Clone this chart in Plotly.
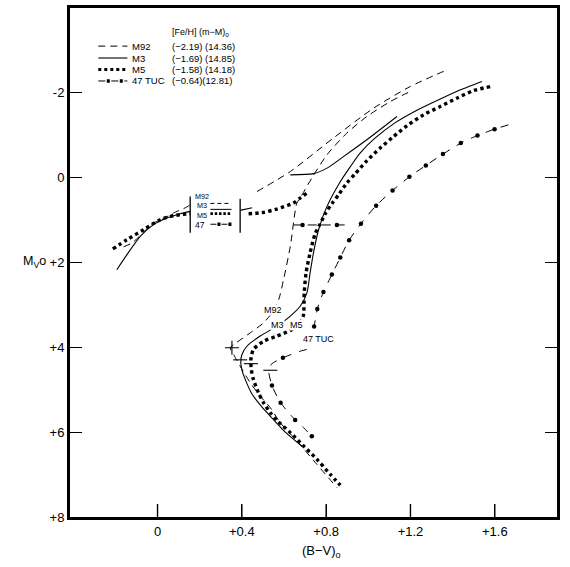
import plotly.graph_objects as go

# ---------------- data ----------------
# M92 (dashed)
M92_HB_BV = [-0.161, -0.121, -0.019, 0.013, 0.076, 0.139, 0.155]
M92_HB_MV = [1.64, 1.55, 1.08, 1.02, 0.845, 0.705, 0.65]
M92_AGB_BV = [0.472, 0.630, 0.835, 1.025, 1.199, 1.373]
M92_AGB_MV = [0.34, -0.13, -0.92, -1.62, -2.13, -2.52]
M92_BV = [1.189, 1.104, 0.993, 0.898, 0.804, 0.732, 0.677, 0.661, 0.630, 0.598,
          0.575, 0.543, 0.503, 0.440, 0.369, 0.345, 0.361, 0.392, 0.440, 0.487,
          0.535, 0.582, 0.661, 0.756, 0.851]
M92_MV = [-1.99, -1.775, -1.423, -1.033, -0.524, 0.023, 0.493, 0.611, 1.63, 2.41,
          2.88, 3.194, 3.429, 3.664, 3.915, 4.016, 4.173, 4.448, 4.838, 5.153,
          5.425, 5.777, 6.21, 6.757, 7.304]

# M3 (solid)
M3_HB_BV = [-0.193, -0.145, -0.082, -0.019, 0.045, 0.108, 0.155]
M3_HB_MV = [2.18, 1.825, 1.395, 1.12, 0.963, 0.862, 0.808]
M3_RHB_BV = [0.392, 0.449]
M3_RHB_MV = [0.784, 0.721]
M3_AGB_BV = [0.630, 0.740, 0.804, 0.882, 0.993, 1.136]
M3_AGB_MV = [-0.05, -0.08, -0.21, -0.48, -0.876, -1.423]
M3_BV = [1.539, 1.421, 1.317, 1.222, 1.128, 1.033, 0.962, 0.914, 0.867, 0.804,
         0.764, 0.740, 0.724, 0.709, 0.677, 0.630, 0.566, 0.487, 0.424, 0.400,
         0.395, 0.400, 0.416, 0.449, 0.497, 0.549, 0.606, 0.685]
M3_MV = [-2.25, -2.02, -1.78, -1.55, -1.28, -0.92, -0.57, -0.24, 0.11, 0.69,
         1.24, 1.78, 2.25, 2.72, 3.04, 3.27, 3.51, 3.74, 3.98, 4.18,
         4.35, 4.53, 4.76, 5.11, 5.42, 5.70, 6.00, 6.33]

# M5 (dotted)
M5_HB_BV = [-0.212, -0.145, -0.066, 0.013, 0.076, 0.155]
M5_HB_MV = [1.691, 1.473, 1.238, 1.003, 0.909, 0.862]
M5_RHB_BV = [0.432, 0.503, 0.566, 0.645, 0.677, 0.709]
M5_RHB_MV = [0.862, 0.831, 0.752, 0.611, 0.493, 0.376]
M5_BV = [1.578, 1.499, 1.420, 1.341, 1.262, 1.183, 1.120, 1.056, 0.993, 0.938,
         0.898, 0.859, 0.827, 0.796, 0.772, 0.748, 0.724, 0.705, 0.696, 0.691,
         0.663, 0.630, 0.566, 0.503, 0.455, 0.443, 0.445, 0.455, 0.479, 0.503,
         0.535, 0.566, 0.630, 0.693, 0.756, 0.819, 0.867]
M5_MV = [-2.128, -2.034, -1.855, -1.658, -1.463, -1.205, -0.953, -0.681, -0.383, -0.078,
         0.141, 0.416, 0.627, 0.862, 1.097, 1.332, 1.778, 2.248, 2.718, 3.281,
         3.516, 3.610, 3.743, 3.861, 4.056, 4.291, 4.526, 4.761, 5.073, 5.308,
         5.542, 5.723, 6.012, 6.327, 6.639, 6.991, 7.250]

# 47 Tuc (dash with dots)
T47_BV = [1.665, 1.599, 1.518, 1.439, 1.354, 1.273, 1.195, 1.115, 1.037, 0.965,
          0.909, 0.867, 0.827, 0.787, 0.758, 0.743, 0.724, 0.677, 0.595, 0.539,
          0.528, 0.543, 0.584, 0.653, 0.693, 0.732]
T47_MV = [-1.228, -1.127, -0.977, -0.798, -0.540, -0.272, -0.007, 0.317, 0.674, 1.097,
          1.484, 1.895, 2.295, 2.705, 3.105, 3.516, 4.016, 4.096, 4.251, 4.408,
          4.573, 4.901, 5.308, 5.712, 5.895, 6.099]
T47_DOT_BV = [1.599, 1.518, 1.439, 1.354, 1.273, 1.195, 1.115, 1.037, 0.965, 0.909,
              0.867, 0.827, 0.787, 0.758, 0.743, 0.595, 0.543, 0.584, 0.653, 0.732]
T47_DOT_MV = [-1.127, -0.977, -0.798, -0.540, -0.272, -0.007, 0.317, 0.674, 1.097, 1.484,
              1.895, 2.295, 2.705, 3.105, 3.516, 4.251, 4.901, 5.308, 5.712, 6.099]
T47_HB_BV = [0.646, 0.898]
T47_HB_MV = [1.127, 1.127]
T47_HB_DOT_BV = [0.688, 0.851]
T47_HB_DOT_MV = [1.127, 1.127]

# turnoff marks
TO_BV = [0.353, 0.392, 0.443, 0.535]
TO_MV = [4.016, 4.30, 4.39, 4.545]
TO_SYMBOL = ["cross-thin", "line-ew", "line-ew", "line-ew"]

# legend table
CLUSTERS = ["M92", "M3", "M5", "47 TUC"]
FEH = ["(\u22122.19)", "(\u22121.69)", "(\u22121.58)", "(\u22120.64)"]
DMOD = ["(14.36)", "(14.85)", "(14.18)", "(12.81)"]
BOX_LABELS = ["M92", "M3", "M5", "47"]

# axes
X_TICKS = [0, 0.4, 0.8, 1.2, 1.6]
X_TICK_TEXT = ["0", "+0.4", "+0.8", "+1.2", "+1.6"]
Y_TICKS = [-2, 0, 2, 4, 6, 8]
Y_TICK_TEXT = ["-2", "0", "+2", "+4", "+6", "+8"]

# ---------------- figure ----------------
FONT = "Liberation Sans"
PLOT_H = 567 - 7 - 49
fig = go.Figure()


def add_line(x, y, dash="solid", width=1.1, shape="spline"):
    fig.add_trace(go.Scatter(
        x=x, y=y, mode="lines",
        line=dict(color="black", width=width, dash=dash, shape=shape, smoothing=0.7),
        hoverinfo="skip", showlegend=False))


M92_DASH = "7px,5px"
M5_DOT = "3.4px,3.2px"
T47_DASH = "8px,8px"

# M92
add_line(M92_HB_BV, M92_HB_MV, M92_DASH, 1.0)
add_line(M92_AGB_BV, M92_AGB_MV, M92_DASH, 1.0)
add_line(M92_BV, M92_MV, M92_DASH, 1.0)
# M3
add_line(M3_HB_BV, M3_HB_MV, "solid", 1.1)
add_line(M3_RHB_BV, M3_RHB_MV, "solid", 1.1, "linear")
add_line(M3_AGB_BV, M3_AGB_MV, "solid", 1.1)
add_line(M3_BV, M3_MV, "solid", 1.1)
# M5
add_line(M5_HB_BV, M5_HB_MV, M5_DOT, 3.4)
add_line(M5_RHB_BV, M5_RHB_MV, M5_DOT, 3.4)
add_line(M5_BV, M5_MV, M5_DOT, 3.4)
# 47 Tuc
add_line(T47_BV, T47_MV, T47_DASH, 1.0)
add_line(T47_HB_BV, T47_HB_MV, "9px,5px", 1.0, "linear")
fig.add_trace(go.Scatter(x=T47_DOT_BV + T47_HB_DOT_BV, y=T47_DOT_MV + T47_HB_DOT_MV,
                         mode="markers", marker=dict(color="black", size=4.5),
                         hoverinfo="skip", showlegend=False))
# turnoff marks
fig.add_trace(go.Scatter(x=TO_BV, y=TO_MV, mode="markers",
                         marker=dict(symbol=TO_SYMBOL, size=10, color="black",
                                     line=dict(color="black", width=1.1)),
                         hoverinfo="skip", showlegend=False))

shapes = []
annotations = []

# ---- frame and bottom ticks ----
shapes.append(dict(type="rect", xref="paper", yref="paper", x0=0, x1=1, y0=0, y1=1,
                   line=dict(color="black", width=2), fillcolor="rgba(0,0,0,0)"))
for t in X_TICKS:
    shapes.append(dict(type="line", xref="x", yref="paper", x0=t, x1=t, y0=0,
                       y1=14 / PLOT_H, line=dict(color="black", width=1.4)))

# ---- legend block (top left) ----
row_mv = [-3.08, -2.80, -2.53, -2.26]
sample_x0, sample_x1 = -0.281, -0.143
name_x = -0.129
val_x = 0.061
sample_styles = [
    [dict(width=1.0, dash=M92_DASH)],
    [dict(width=1.1, dash="solid")],
    [dict(width=3.0, dash="3px,3px")],
    [dict(width=1.0, dash="7px,6px"), dict(width=3.5, dash="0px,8.5px,3px,1.5px")],
]
for i, name in enumerate(CLUSTERS):
    for st in sample_styles[i]:
        shapes.append(dict(type="line", xref="x", yref="y", x0=sample_x0, x1=sample_x1,
                           y0=row_mv[i], y1=row_mv[i], line=dict(color="black", **st)))
    annotations.append(dict(x=name_x, y=row_mv[i], xref="x", yref="y", text=name,
                            showarrow=False, xanchor="left", yanchor="middle",
                            font=dict(size=9.5, family=FONT, color="black")))
    annotations.append(dict(x=val_x, y=row_mv[i], xref="x", yref="y",
                            text=FEH[i] + ("" if i == 3 else " ") + DMOD[i],
                            showarrow=False, xanchor="left", yanchor="middle",
                            font=dict(size=9.5, family=FONT, color="black")))
annotations.append(dict(x=val_x, y=-3.39, xref="x", yref="y",
                        text="[Fe/H] (m\u2212M)<sub>o</sub>", showarrow=False,
                        xanchor="left", yanchor="middle",
                        font=dict(size=9, family=FONT, color="black")))

# ---- instability strip box ----
shapes.append(dict(type="line", xref="x", yref="y", x0=0.155, x1=0.155, y0=0.46, y1=1.31,
                   line=dict(color="black", width=1.3)))
shapes.append(dict(type="line", xref="x", yref="y", x0=0.392, x1=0.392, y0=0.51, y1=1.31,
                   line=dict(color="black", width=1.3)))
annotations.append(dict(x=0.166, y=0.69, xref="x", yref="y",
                        text="<br>".join(BOX_LABELS[:3]),
                        showarrow=False, xanchor="left", yanchor="middle",
                        font=dict(size=7.2, family=FONT, color="black")))
annotations.append(dict(x=0.166, y=1.12, xref="x", yref="y", text=BOX_LABELS[3],
                        showarrow=False, xanchor="left", yanchor="middle",
                        font=dict(size=8.5, family=FONT, color="black")))
box_samples = [
    (0.62, [dict(width=1.0, dash="4px,3px")]),
    (0.76, [dict(width=1.0, dash="solid")]),
    (0.86, [dict(width=2.8, dash="2.5px,1.8px")]),
    (1.11, [dict(width=1.0, dash="6px,5px"), dict(width=3.3, dash="0px,7px,3px,1px")]),
]
for mv, sts in box_samples:
    for st in sts:
        shapes.append(dict(type="line", xref="x", yref="y", x0=0.251, x1=0.351,
                           y0=mv, y1=mv, line=dict(color="black", **st)))

# ---- curve labels ----
curve_labels = [("M92", 0.550, 3.12), ("M3", 0.571, 3.47), ("M5", 0.661, 3.47),
                ("47 TUC", 0.762, 3.80)]
for txt, bx, mv in curve_labels:
    annotations.append(dict(x=bx, y=mv, xref="x", yref="y", text=txt, showarrow=False,
                            xanchor="center", yanchor="middle", bgcolor="white",
                            borderpad=0,
                            font=dict(size=9, family=FONT, color="black")))

# ---- axis titles ----
annotations.append(dict(x=0, y=2.0, xref="paper", yref="y", xshift=-48,
                        text="M<sub>V</sub>o", showarrow=False,
                        font=dict(size=12.5, family=FONT, color="black")))
annotations.append(dict(x=0.78, y=0, xref="x", yref="paper", yshift=-33,
                        text="(B\u2212V)<sub>o</sub>", showarrow=False, yanchor="middle",
                        font=dict(size=13, family=FONT, color="black")))

fig.update_layout(
    width=570, height=567,
    margin=dict(l=69, r=12, t=7, b=49, autoexpand=False),
    paper_bgcolor="white", plot_bgcolor="white",
    showlegend=False,
    font=dict(family=FONT, color="black"),
    shapes=shapes, annotations=annotations,
)
fig.update_xaxes(range=[-0.42, 1.90], tickvals=X_TICKS, ticktext=X_TICK_TEXT,
                 ticks="inside", ticklen=13, tickwidth=1.4, tickcolor="black",
                 showline=True, linewidth=2, linecolor="black", mirror=True,
                 showgrid=False, zeroline=False,
                 tickfont=dict(size=13, family=FONT, color="black"))
fig.update_yaxes(range=[8.02, -4.0], tickvals=Y_TICKS, ticktext=Y_TICK_TEXT,
                 ticks="inside", ticklen=13, tickwidth=1.4, tickcolor="black",
                 showline=True, linewidth=2, linecolor="black", mirror="ticks",
                 showgrid=False, zeroline=False,
                 tickfont=dict(size=13, family=FONT, color="black"))

fig.write_html("out.html", config={"displayModeBar": False},
               post_script="document.body.style.margin='0px';")
